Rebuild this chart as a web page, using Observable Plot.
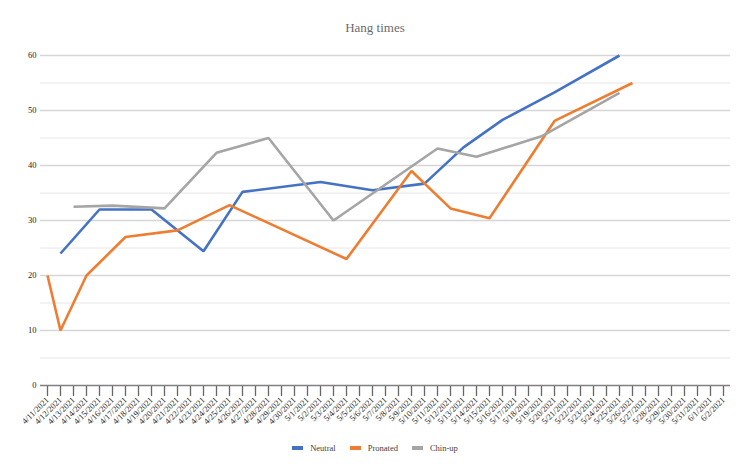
<!DOCTYPE html>
<html>
<head>
<meta charset="utf-8">
<script src="https://cdn.jsdelivr.net/npm/d3@7"></script>
<script src="https://cdn.jsdelivr.net/npm/@observablehq/plot@0.6"></script>
<style>
  html, body { margin: 0; padding: 0; background: #fff; }
  #wrap { position: relative; width: 750px; height: 473px; font-family: "Liberation Serif", "DejaVu Serif", serif; }
  #title { position: absolute; left: 0; top: 20px; width: 750px; text-align: center; font-size: 13px; color: #6b6b6b; line-height: 16px; }
  #chart { position: absolute; left: 0; top: 45px; }
  #legend { position: absolute; left: 0; top: 441px; width: 750px; display: flex; justify-content: center; align-items: center; font-size: 8.5px; color: #404040; line-height: 14px; }
  .item { display: flex; align-items: center; margin: 0 7px; }
  .sw { width: 11px; height: 4px; margin-right: 7px; }
  #chart svg text { font-family: "Liberation Serif", "DejaVu Serif", serif; }
</style>
</head>
<body>
<div id="wrap">
  <div id="title">Hang times</div>
  <div id="chart"></div>
  <div id="legend"></div>
</div>
<script>
const dates = ["4/11/2021","4/12/2021","4/13/2021","4/14/2021","4/15/2021","4/16/2021","4/17/2021","4/18/2021","4/19/2021","4/20/2021",
  "4/21/2021","4/22/2021","4/23/2021","4/24/2021","4/25/2021","4/26/2021","4/27/2021","4/28/2021","4/29/2021","4/30/2021",
  "5/1/2021","5/2/2021","5/3/2021","5/4/2021","5/5/2021","5/6/2021","5/7/2021","5/8/2021","5/9/2021","5/10/2021",
  "5/11/2021","5/12/2021","5/13/2021","5/14/2021","5/15/2021","5/16/2021","5/17/2021","5/18/2021","5/19/2021","5/20/2021",
  "5/21/2021","5/22/2021","5/23/2021","5/24/2021","5/25/2021","5/26/2021","5/27/2021","5/28/2021","5/29/2021","5/30/2021",
  "5/31/2021","6/1/2021","6/2/2021"];

const seriesNames = ["Neutral", "Pronated", "Chin-up"];
const seriesColors = ["#4472C4", "#ED7D31", "#A5A5A5"];

const neutralDates = ["4/12/2021","4/15/2021","4/19/2021","4/23/2021","4/26/2021","5/2/2021","5/6/2021","5/10/2021","5/13/2021","5/16/2021","5/20/2021","5/25/2021"];
const neutralValues = [24, 32, 32, 24.4, 35.2, 37, 35.5, 36.7, 43.3, 48.3, 53.3, 60];

const pronatedDates = ["4/11/2021","4/12/2021","4/14/2021","4/17/2021","4/21/2021","4/25/2021","5/4/2021","5/9/2021","5/12/2021","5/15/2021","5/20/2021","5/26/2021"];
const pronatedValues = [20, 10, 20, 27, 28.2, 32.8, 23, 39, 32.2, 30.4, 48.1, 55];

const chinupDates = ["4/13/2021","4/16/2021","4/20/2021","4/24/2021","4/28/2021","5/3/2021","5/11/2021","5/14/2021","5/19/2021","5/25/2021"];
const chinupValues = [32.5, 32.7, 32.2, 42.3, 45, 30, 43.1, 41.6, 45.3, 53.2];

const yTicks = [0, 10, 20, 30, 40, 50, 60];
const yMinorGrid = [5, 15, 25, 35, 45, 55];

const toRows = (name, ds, vs) => ds.map((d, i) => ({series: name, date: d, value: vs[i]}));
const rows = [
  ...toRows("Neutral", neutralDates, neutralValues),
  ...toRows("Pronated", pronatedDates, pronatedValues),
  ...toRows("Chin-up", chinupDates, chinupValues)
];

const font = "'Liberation Serif', 'DejaVu Serif', serif";

const chart = Plot.plot({
  width: 750,
  height: 390,
  marginLeft: 46,
  marginRight: 27,
  marginTop: 10,
  marginBottom: 50,
  style: {fontFamily: font, background: "transparent", overflow: "visible"},
  x: {type: "point", domain: dates, padding: 0, label: null},
  y: {domain: [0, 60], label: null},
  color: {domain: seriesNames, range: seriesColors},
  marks: [
    Plot.ruleY(yMinorGrid, {stroke: "#e6e6e6", strokeWidth: 1, insetLeft: -6, insetRight: -7}),
    Plot.ruleY(yTicks.filter(d => d > 0), {stroke: "#d6d6d6", strokeWidth: 1.3, insetLeft: -6, insetRight: -7}),
    Plot.axisY({ticks: yTicks, tickSize: 0, tickPadding: 10, fontSize: 8.5, fontFamily: font, fill: "#222", label: null}),
    Plot.axisX({tickSize: 11, tickPadding: 2, tickRotate: -45, fontSize: 8.5, fontFamily: font, fill: "#222", stroke: "#666", strokeWidth: 1.3, label: null}),
    Plot.ruleY([0], {stroke: "#808080", strokeWidth: 1.5, insetLeft: -6, insetRight: -7}),
    Plot.line(rows, {x: "date", y: "value", z: "series", stroke: "series", strokeWidth: 2.6, strokeLinejoin: "miter", strokeLinecap: "butt"})
  ]
});
document.getElementById("chart").appendChild(chart);

const legend = document.getElementById("legend");
seriesNames.forEach((n, i) => {
  const it = document.createElement("div");
  it.className = "item";
  const sw = document.createElement("div");
  sw.className = "sw";
  sw.style.background = seriesColors[i];
  const tx = document.createElement("span");
  tx.textContent = n;
  it.appendChild(sw);
  it.appendChild(tx);
  legend.appendChild(it);
});
</script>
</body>
</html>
